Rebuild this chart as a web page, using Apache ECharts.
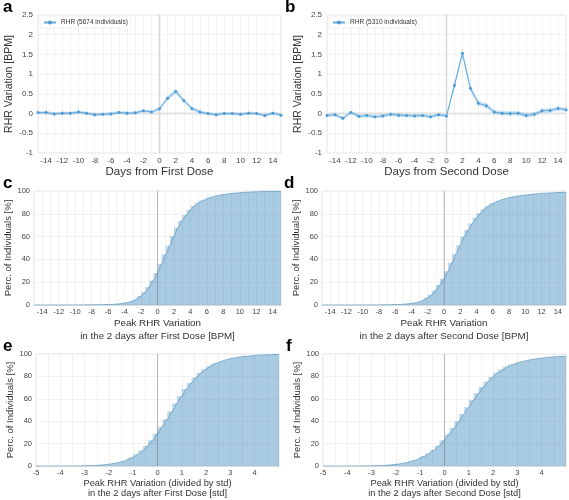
<!DOCTYPE html>
<html>
<head>
<meta charset="utf-8">
<script src="https://cdn.jsdelivr.net/npm/echarts@6/dist/echarts.min.js"></script>
<style>html,body{margin:0;padding:0;background:#fff}#c{width:569px;height:500px}</style>
</head>
<body>
<div id="c"></div>
<script>
// ---- data ----
const days = [-15,-14,-13,-12,-11,-10,-9,-8,-7,-6,-5,-4,-3,-2,-1,0,1,2,3,4,5,6,7,8,9,10,11,12,13,14,15];
const rhrFirst = [0.025,0.03,-0.01,0.01,0.01,0.04,0.01,-0.03,-0.02,-0.01,0.03,0.01,0.02,0.07,0.04,0.12,0.39,0.56,0.33,0.13,0.04,0.0,-0.03,0.0,0.0,-0.02,0.01,0.0,-0.05,0.01,-0.04];
const errFirst = [0.035,0.035,0.035,0.035,0.035,0.035,0.035,0.035,0.035,0.035,0.035,0.035,0.035,0.035,0.035,0.04,0.05,0.06,0.05,0.045,0.04,0.035,0.035,0.035,0.035,0.035,0.035,0.035,0.035,0.035,0.035];
const rhrSecond = [-0.05,-0.03,-0.12,0.03,-0.07,-0.05,-0.08,-0.06,-0.02,-0.04,-0.05,-0.06,-0.05,-0.08,-0.03,-0.06,0.72,1.53,0.64,0.26,0.20,0.04,0.01,0.0,0.01,-0.05,-0.02,0.07,0.08,0.13,0.10];
const errSecond = [0.04,0.04,0.04,0.04,0.04,0.04,0.04,0.04,0.04,0.04,0.04,0.04,0.04,0.04,0.04,0.04,0.07,0.08,0.07,0.06,0.06,0.05,0.05,0.05,0.05,0.05,0.05,0.05,0.05,0.05,0.05];

const edgesBPM = [-15,-14.5,-14,-13.5,-13,-12.5,-12,-11.5,-11,-10.5,-10,-9.5,-9,-8.5,-8,-7.5,-7,-6.5,-6,-5.5,-5,-4.5,-4,-3.5,-3,-2.5,-2,-1.5,-1,-0.5,0,0.5,1,1.5,2,2.5,3,3.5,4,4.5,5,5.5,6,6.5,7,7.5,8,8.5,9,9.5,10,10.5,11,11.5,12,12.5,13,13.5,14,14.5,15];
const cdfFirstBPM = [0,0,0.01,0.01,0.01,0.02,0.02,0.03,0.03,0.04,0.05,0.07,0.09,0.12,0.15,0.2,0.25,0.33,0.45,0.6,0.85,1.2,1.7,2.5,3.7,5.4,7.8,11.2,15.8,21.5,28,36,44.5,52,60.5,68,74,79,83.3,86.8,89.5,91.6,93.2,94.5,95.5,96.3,96.9,97.4,97.8,98.2,98.5,98.8,99,99.2,99.3,99.45,99.55,99.65,99.72,99.78,99.83];
const cdfSecondBPM = [0,0,0,0.01,0.01,0.01,0.02,0.02,0.03,0.03,0.04,0.05,0.06,0.08,0.1,0.14,0.2,0.27,0.37,0.5,0.7,1.0,1.4,2.0,2.9,4.3,6.3,9,12.8,17.5,23,29.5,37,45,52.5,60,66,71.5,76.5,80.5,84,86.8,89,90.7,92.1,93.2,94.1,94.9,95.5,96,96.5,96.9,97.3,97.6,97.9,98.1,98.3,98.5,98.7,98.8,98.9];

const edgesStd = [-5,-4.8,-4.6,-4.4,-4.2,-4,-3.8,-3.6,-3.4,-3.2,-3,-2.8,-2.6,-2.4,-2.2,-2,-1.8,-1.6,-1.4,-1.2,-1,-0.8,-0.6,-0.4,-0.2,0,0.2,0.4,0.6,0.8,1,1.2,1.4,1.6,1.8,2,2.2,2.4,2.6,2.8,3,3.2,3.4,3.6,3.8,4,4.2,4.4,4.6,4.8,5];
const cdfFirstStd = [0,0.01,0.02,0.02,0.03,0.05,0.07,0.1,0.13,0.2,0.28,0.4,0.58,0.83,1.2,1.7,2.35,3.2,4.4,6,8,10.6,14,18,23,28.8,35,41.7,48.7,55.8,62.5,68.7,74.2,79,83.2,86.6,89.4,91.6,93.3,94.7,95.8,96.7,97.4,97.9,98.3,98.7,99,99.2,99.35,99.5,99.6];
const cdfSecondStd = [0,0.01,0.01,0.02,0.03,0.04,0.06,0.08,0.12,0.17,0.25,0.37,0.53,0.77,1.1,1.55,2.15,3,4,5.3,7,9,11.5,14.5,18.3,23,28.5,34,40,46.5,52.5,59,65,70.5,75.3,79.5,83.2,86.2,88.6,90.6,92.1,93.3,94.3,95.1,95.8,96.4,96.9,97.3,97.6,97.9,98.1];

const nameFirst = 'RHR (5674 individuals)';
const nameSecond = 'RHR (5310 individuals)';

// ---- layout / style ----
const FONT = 'Liberation Sans, Arial, Helvetica, sans-serif';
const grids = [
  {left:38, top:15, width:243, height:138},
  {left:327, top:15, width:240, height:138},
  {left:34, top:191, width:247, height:114},
  {left:322, top:191, width:246, height:114},
  {left:36, top:354, width:243, height:114},
  {left:323, top:354, width:244, height:114}
].map(g => Object.assign({show:true, borderColor:'#e2e2e2', borderWidth:1}, g));

const labelStyle = {fontSize:8, color:'#444', fontFamily:FONT};
const evenFmt = v => (Math.abs(v) < 15 && v % 2 === 0) ? String(v) : '';
const intFmt = v => (Number.isInteger(v) && v < 5) ? String(v) : '';

function xDays(idx, name) {
  return {type:'value', gridIndex:idx, min:-15, max:15, interval:1,
    axisLabel:Object.assign({formatter:evenFmt, margin:4}, labelStyle),
    axisTick:{show:false}, axisLine:{show:true, lineStyle:{color:'#ddd'}},
    splitLine:{show:true, lineStyle:{color:'#f1f1f1'}},
    name:name, nameLocation:'middle', nameGap:10,
    nameTextStyle:{fontSize:11.5, color:'#333', fontFamily:FONT}};
}
function yRHR(idx) {
  return {type:'value', gridIndex:idx, min:-1, max:2.5, interval:0.5,
    axisLabel:Object.assign({margin:5}, labelStyle),
    axisTick:{show:false}, axisLine:{show:true, lineStyle:{color:'#ddd'}},
    splitLine:{show:true, lineStyle:{color:'#f3f3f3'}},
    name:'RHR Variation [BPM]', nameLocation:'middle', nameGap:23,
    nameTextStyle:{fontSize:10.5, color:'#333', fontFamily:FONT}};
}
function xCdf(idx, name, std) {
  return {type:'value', gridIndex:idx, min:std?-5:-15, max:std?5:15, interval:std?0.5:1,
    axisLabel:Object.assign({formatter:std?intFmt:evenFmt, margin:3}, labelStyle, {fontSize:7.5}),
    axisTick:{show:false}, axisLine:{show:true, lineStyle:{color:'#ddd'}},
    splitLine:{show:true, lineStyle:{color:'#f1f1f1'}},
    name:name, nameLocation:'middle', nameGap:9,
    nameTextStyle:{fontSize:std?9.3:9.8, lineHeight:std?10.5:13, color:'#333', fontFamily:FONT}};
}
function yCdf(idx, gap) {
  return {type:'value', gridIndex:idx, min:0, max:100, interval:20,
    axisLabel:Object.assign({margin:4}, labelStyle, {fontSize:7.5}),
    axisTick:{show:false}, axisLine:{show:true, lineStyle:{color:'#ddd'}},
    splitLine:{show:true, lineStyle:{color:'#f1f1f1'}},
    name:'Perc. of Individuals [%]', nameLocation:'middle', nameGap:gap,
    nameTextStyle:{fontSize:9.5, color:'#333', fontFamily:FONT}};
}

function refLine(idx, pts, color, width) {
  return {type:'line', name:'_ref', xAxisIndex:idx, yAxisIndex:idx, data:pts, symbol:'none',
    lineStyle:{color:color, width:width}, silent:true, z:1};
}

function rhrSeries(idx, name, vals, err) {
  const bandData = days.map((d,i)=>[d, vals[i]-err[i], vals[i]+err[i]]);
  return [
    refLine(idx, [[-15,0],[15,0]], '#e2e2e2', 2),
    refLine(idx, [[0,-1],[0,2.5]], '#d6d6d6', 1.5),
    {type:'custom', name:'_band'+idx, xAxisIndex:idx, yAxisIndex:idx, silent:true, z:2,
     data:bandData, encode:{x:0, y:[1,2]},
     renderItem:function(params, api){
       const i = params.dataIndex;
       if (i >= bandData.length - 1) return null;
       const a = bandData[i], b = bandData[i+1];
       const pts = [api.coord([a[0], a[2]]), api.coord([b[0], b[2]]),
                    api.coord([b[0], b[1]]), api.coord([a[0], a[1]])];
       return {type:'polygon', shape:{points:pts},
               style:{fill:'rgba(75,156,215,0.26)', stroke:'rgba(75,156,215,0.26)', lineWidth:0.3}};
     }},
    {type:'line', name:name, xAxisIndex:idx, yAxisIndex:idx,
     data:days.map((d,i)=>[d, vals[i]]), symbol:'circle', symbolSize:3,
     itemStyle:{color:'#4b9cd7'}, lineStyle:{color:'#62a9de', width:1}, z:4}
  ];
}
function cdfSeries(idx, edges, vals) {
  const pts = edges.map((x,i)=>[x, vals[i]]);
  return [
    {type:'line', name:'_step'+idx, xAxisIndex:idx, yAxisIndex:idx, step:'start',
     data:pts, symbol:'none', lineStyle:{opacity:0, width:0},
     areaStyle:{color:'rgba(31,119,180,0.40)'}, silent:true, z:2},
    {type:'line', name:'_cdf'+idx, xAxisIndex:idx, yAxisIndex:idx, smooth:0.4, smoothMonotone:'x',
     data:pts, symbol:'none', lineStyle:{color:'rgba(31,119,180,0.45)', width:1},
     areaStyle:{color:'rgba(31,119,180,0.20)'}, silent:true, z:3},
    Object.assign(refLine(idx, [[0,0],[0,100]], 'rgba(110,110,110,0.35)', 1), {z:4})
  ];
}

function letter(t, x, y) {
  return {type:'text', left:x, top:y, style:{text:t, fontSize:17, fontWeight:'bold', fill:'#000', fontFamily:FONT}};
}
const legendBase = {orient:'horizontal', itemWidth:12, itemHeight:5, itemGap:4,
  textStyle:{fontSize:6.5, color:'#333', fontFamily:FONT}, padding:[2,3],
  borderColor:'#e4e4e4', borderWidth:0.5, backgroundColor:'#fff'};

const option = {
  animation:false,
  textStyle:{fontFamily:FONT},
  grid:grids,
  xAxis:[
    xDays(0,'Days from First Dose'),
    xDays(1,'Days from Second Dose'),
    xCdf(2,'Peak RHR Variation\nin the 2 days after First Dose [BPM]', false),
    xCdf(3,'Peak RHR Variation\nin the 2 days after Second Dose [BPM]', false),
    xCdf(4,'Peak RHR Variation (divided by std)\nin the 2 days after First Dose [std]', true),
    xCdf(5,'Peak RHR Variation (divided by std)\nin the 2 days after Second Dose [std]', true)
  ],
  yAxis:[yRHR(0), yRHR(1), yCdf(2,19), yCdf(3,19), yCdf(4,21), yCdf(5,20)],
  legend:[
    Object.assign({data:[nameFirst], left:40, top:17}, legendBase),
    Object.assign({data:[nameSecond], left:329, top:17}, legendBase)
  ],
  graphic:[letter('a',3,-1), letter('b',285,-1), letter('c',3,175), letter('d',284,175), letter('e',3,338), letter('f',286,338)],
  series:[].concat(
    rhrSeries(0, nameFirst, rhrFirst, errFirst),
    rhrSeries(1, nameSecond, rhrSecond, errSecond),
    cdfSeries(2, edgesBPM, cdfFirstBPM),
    cdfSeries(3, edgesBPM, cdfSecondBPM),
    cdfSeries(4, edgesStd, cdfFirstStd),
    cdfSeries(5, edgesStd, cdfSecondStd)
  )
};
const chart = echarts.init(document.getElementById('c'), null, {renderer:'canvas'});
chart.setOption(option);
</script>
</body>
</html>
